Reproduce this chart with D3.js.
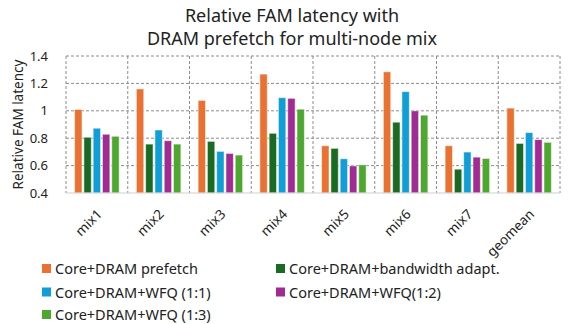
<!DOCTYPE html>
<meta charset="utf-8">
<style>
body { margin: 0; background: #fff; }
text { font-family: "Noto Sans", sans-serif; fill: #222; }
.grid line { stroke: #8c8c8c; stroke-dasharray: 3,2; stroke-width: 1; }
</style>
<svg width="569" height="324"></svg>
<script src="https://cdn.jsdelivr.net/npm/d3@7"></script>
<script>

var categories = ["mix1", "mix2", "mix3", "mix4", "mix5", "mix6", "mix7", "geomean"];
var seriesNames = ["Core+DRAM prefetch", "Core+DRAM+bandwidth adapt.", "Core+DRAM+WFQ (1:1)", "Core+DRAM+WFQ(1:2)", "Core+DRAM+WFQ (1:3)"];
var colors = ["#E97132", "#196B24", "#0F9ED5", "#A02B93", "#4EA72E"];

var prefetch = [1.01, 1.16, 1.076, 1.268, 0.745, 1.285, 0.745, 1.02];
var bwAdapt  = [0.807, 0.757, 0.777, 0.836, 0.726, 0.917, 0.574, 0.762];
var wfq11    = [0.873, 0.86, 0.704, 1.096, 0.65, 1.14, 0.699, 0.841];
var wfq12    = [0.829, 0.782, 0.689, 1.091, 0.598, 1.0, 0.662, 0.79];
var wfq13    = [0.814, 0.757, 0.677, 1.012, 0.606, 0.968, 0.652, 0.77];
var yTicks = [0.4, 0.6, 0.8, 1, 1.2, 1.4];

var series = [prefetch, bwAdapt, wfq11, wfq12, wfq13];

var svg = d3.select("svg");
var margin = {left: 66, right: 9, top: 56, bottom: 131};
var width = 569 - margin.left - margin.right,
    height = 324 - margin.top - margin.bottom;

var g = svg.append("g").attr("transform", "translate(" + margin.left + "," + margin.top + ")");

var x = d3.scaleBand().domain(categories).range([0, width]);
var x1 = d3.scaleBand().domain(d3.range(series.length)).range([8.6, x.bandwidth() - 8.6]).paddingInner(0.2);
var y = d3.scaleLinear().domain([0.4, 1.4]).range([height, 0]);

// grid
var grid = g.append("g").attr("class", "grid");
grid.selectAll(".h").data(yTicks.slice(1)).enter().append("line")
    .attr("x1", 0).attr("x2", width)
    .attr("y1", function(d) { return y(d); }).attr("y2", function(d) { return y(d); });
grid.selectAll(".v").data(d3.range(categories.length + 1)).enter().append("line")
    .attr("x1", function(i) { return i * x.step(); }).attr("x2", function(i) { return i * x.step(); })
    .attr("y1", 0).attr("y2", height);

// bars
categories.forEach(function(c, ci) {
  g.append("g").selectAll("rect").data(series).enter().append("rect")
      .attr("x", function(s, si) { return x(c) + x1(si); })
      .attr("width", x1.bandwidth())
      .attr("y", function(s) { return y(s[ci]); })
      .attr("height", function(s) { return height - y(s[ci]); })
      .attr("fill", function(s, si) { return colors[si]; })
      .attr("stroke", "#fff").attr("stroke-opacity", 0.55).attr("stroke-width", 1);
});

// bottom axis line
g.append("line").attr("x1", 0).attr("x2", width).attr("y1", height).attr("y2", height)
    .attr("stroke", "#d0d0d0").attr("stroke-width", 1.2);

// y tick labels
g.selectAll(".yt").data(yTicks).enter().append("text")
    .attr("x", -18).attr("y", function(d) { return y(d); }).attr("dy", "0.35em")
    .attr("text-anchor", "end").style("font-size", "13px")
    .text(function(d) { return d3.format("~g")(d); });

// x labels
g.selectAll(".xt").data(categories).enter().append("text")
    .attr("text-anchor", "end").style("font-size", "13.5px")
    .attr("transform", function(d) { return "translate(" + (x(d) + x.bandwidth() / 2 + 6) + "," + (height + 22) + ") rotate(-45)"; })
    .text(function(d) { return d; });

// y axis title
svg.append("text").attr("transform", "translate(23," + (margin.top + height / 2) + ") rotate(-90)")
    .attr("text-anchor", "middle").style("font-size", "13.5px").text("Relative FAM latency");

// title
svg.append("text").attr("x", 292).attr("y", 22).attr("text-anchor", "middle").style("font-size", "18px")
    .text("Relative FAM latency with");
svg.append("text").attr("x", 292).attr("y", 45).attr("text-anchor", "middle").style("font-size", "18px")
    .text("DRAM prefetch for multi-node mix");

// legend
var legendPos = [[42, 269], [276, 269], [42, 292.5], [276, 292.5], [42, 315]];
var leg = svg.selectAll(".leg").data(seriesNames).enter().append("g")
    .attr("transform", function(d, i) { return "translate(" + legendPos[i][0] + "," + legendPos[i][1] + ")"; });
leg.append("rect").attr("x", 0).attr("y", -5).attr("width", 9).attr("height", 9)
    .attr("fill", function(d, i) { return colors[i]; });
leg.append("text").attr("x", 13).attr("dy", "0.35em").style("font-size", "14.5px").text(function(d) { return d; });

</script>
